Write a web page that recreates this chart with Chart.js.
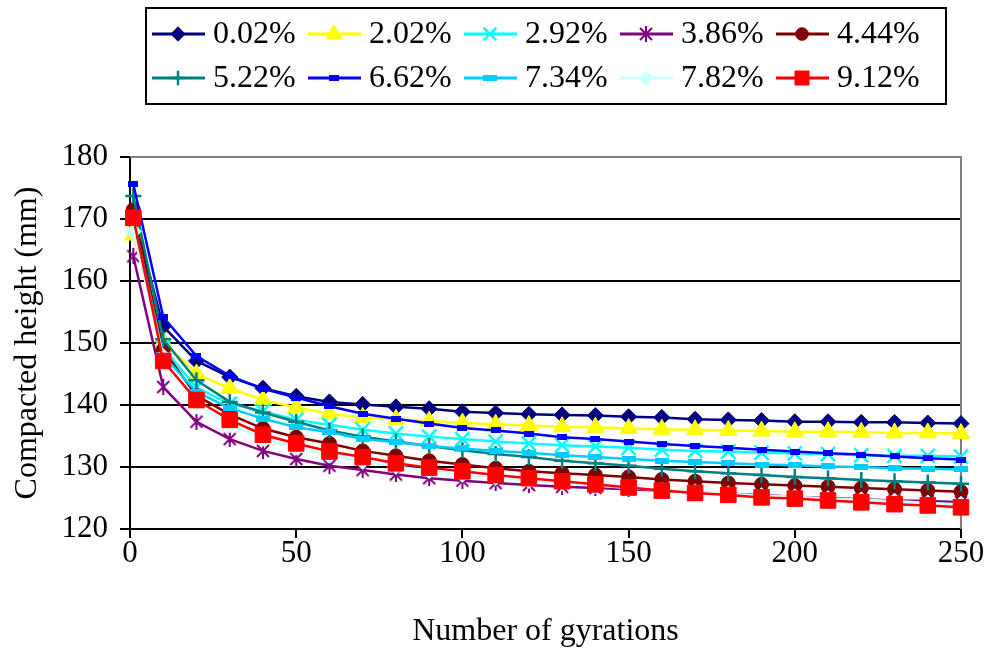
<!DOCTYPE html>
<html>
<head>
<meta charset="utf-8">
<script src="https://cdn.jsdelivr.net/npm/chart.js@4.4.0/dist/chart.umd.min.js"></script>
<style>
  html, body { margin: 0; padding: 0; background: #fff; }
  #wrap { width: 991px; height: 651px; }
</style>
</head>
<body>
<div id="wrap"><canvas id="chart"></canvas></div>
<script>
const gyrations = [1, 10, 20, 30, 40, 50, 60, 70, 80, 90, 100, 110, 120, 130, 140, 150, 160, 170, 180, 190, 200, 210, 220, 230, 240, 250];

const labels = ['0.02%', '2.02%', '2.92%', '3.86%', '4.44%', '5.22%', '6.62%', '7.34%', '7.82%', '9.12%'];

const h002 = [170.8, 152.7, 147.1, 144.5, 142.7, 141.4, 140.5, 140.1, 139.7, 139.4, 138.9, 138.7, 138.5, 138.4, 138.3, 138.1, 138.0, 137.7, 137.6, 137.5, 137.3, 137.3, 137.2, 137.2, 137.1, 137.0];
const h202 = [167.4, 150.2, 145.0, 142.7, 140.8, 139.6, 138.6, 138.0, 137.7, 137.4, 137.1, 136.9, 136.7, 136.5, 136.4, 136.2, 136.1, 136.0, 135.9, 135.8, 135.7, 135.7, 135.6, 135.5, 135.5, 135.4];
const h292 = [169.0, 149.2, 142.8, 140.2, 139.0, 137.6, 136.8, 136.0, 135.4, 134.9, 134.5, 134.1, 133.8, 133.5, 133.3, 133.1, 132.8, 132.6, 132.5, 132.3, 132.2, 132.1, 131.9, 131.8, 131.8, 131.7];
const h386 = [164.0, 142.9, 137.3, 134.5, 132.6, 131.3, 130.2, 129.5, 128.8, 128.2, 127.8, 127.4, 127.1, 126.8, 126.6, 126.4, 126.2, 125.9, 125.7, 125.5, 125.2, 125.0, 124.8, 124.6, 124.5, 124.3];
const h444 = [171.5, 148.9, 141.5, 138.5, 136.2, 134.8, 133.8, 132.6, 131.8, 131.0, 130.4, 129.8, 129.3, 129.0, 128.7, 128.4, 128.0, 127.7, 127.4, 127.2, 127.0, 126.8, 126.6, 126.4, 126.2, 126.0];
const h522 = [173.7, 150.6, 144.0, 140.5, 138.8, 137.3, 135.9, 134.9, 134.1, 133.4, 132.7, 132.1, 131.6, 131.0, 130.6, 130.2, 129.7, 129.3, 129.0, 128.7, 128.4, 128.2, 127.9, 127.7, 127.5, 127.3];
const h662 = [175.6, 154.2, 147.9, 144.7, 142.6, 141.2, 139.8, 138.6, 137.8, 137.0, 136.3, 135.9, 135.4, 134.8, 134.5, 134.1, 133.7, 133.4, 133.1, 132.8, 132.5, 132.2, 132.0, 131.7, 131.4, 131.2];
const h734 = [170.0, 148.0, 142.1, 139.5, 137.8, 136.4, 135.6, 134.5, 134.0, 133.4, 133.0, 132.6, 132.3, 131.9, 131.6, 131.3, 131.0, 130.8, 130.6, 130.4, 130.3, 130.1, 130.0, 129.8, 129.7, 129.6];
const h782 = [168.0, 147.8, 140.2, 136.8, 134.6, 133.2, 131.9, 130.9, 130.1, 129.4, 128.8, 128.3, 127.8, 127.4, 127.0, 126.6, 126.3, 126.0, 125.7, 125.4, 125.2, 124.9, 124.7, 124.5, 124.2, 124.0];
const h912 = [170.2, 147.1, 140.8, 137.6, 135.2, 133.8, 132.5, 131.6, 130.6, 129.9, 129.3, 128.7, 128.2, 127.7, 127.2, 126.7, 126.2, 125.8, 125.5, 125.1, 124.9, 124.6, 124.3, 124.0, 123.8, 123.5];

const xTicks = [0, 50, 100, 150, 200, 250];
const yTicks = [120, 130, 140, 150, 160, 170, 180];

const FONT = 'Liberation Serif, Times New Roman, serif';

// small canvases for the marker shapes Chart.js has no built-in for
function starMarker(color) {
  const c = document.createElement('canvas');
  c.width = 16; c.height = 16;
  const g = c.getContext('2d');
  g.strokeStyle = color;
  g.lineWidth = 2;
  g.beginPath();
  g.moveTo(2, 2); g.lineTo(14, 14);
  g.moveTo(14, 2); g.lineTo(2, 14);
  g.moveTo(8, 0); g.lineTo(8, 16);
  g.stroke();
  return c;
}

function dashMarker(color, w, h) {
  const c = document.createElement('canvas');
  c.width = w; c.height = h;
  const g = c.getContext('2d');
  g.fillStyle = color;
  g.fillRect(0, 0, w, h);
  return c;
}

const series = [
  { data: h002, color: '#000080', style: 'rectRot', radius: 8, bw: 1 },
  { data: h202, color: '#FFFF00', style: 'triangle', radius: 10, bw: 1 },
  { data: h292, color: '#00FFFF', style: 'crossRot', radius: 10, bw: 2.5 },
  { data: h386, color: '#800080', style: starMarker('#800080'), radius: 8, bw: 1 },
  { data: h444, color: '#800000', style: 'circle', radius: 7, bw: 1 },
  { data: h522, color: '#008080', style: 'cross', radius: 8, bw: 2.5 },
  { data: h662, color: '#0000FF', style: dashMarker('#0000FF', 10, 6), radius: 6, bw: 1 },
  { data: h734, color: '#00CCFF', style: dashMarker('#00CCFF', 14, 6), radius: 7, bw: 1 },
  { data: h782, color: '#CCFFFF', style: 'rectRot', radius: 8, bw: 1 },
  { data: h912, color: '#FF0000', style: 'rect', radius: 11, bw: 1 },
];

const datasets = series.map((s, i) => ({
  label: labels[i],
  data: gyrations.map((g, j) => ({ x: g, y: s.data[j] })),
  borderColor: s.color,
  backgroundColor: s.color,
  borderWidth: 2.5,
  pointStyle: s.style,
  pointRadius: s.radius,
  pointHoverRadius: s.radius,
  pointBackgroundColor: s.color,
  pointBorderColor: s.color,
  pointBorderWidth: s.bw,
  tension: 0,
  clip: false,
  order: series.length - i,
}));

// boxed two-row legend, line + marker like the series
const boxLegend = {
  id: 'boxLegend',
  afterDraw(chart) {
    const ctx = chart.ctx;
    ctx.save();
    ctx.strokeStyle = '#000';
    ctx.lineWidth = 2;
    ctx.strokeRect(146, 8, 800, 96);
    ctx.font = '32px ' + FONT;
    ctx.textBaseline = 'middle';
    ctx.textAlign = 'left';
    series.forEach((s, i) => {
      const col = i % 5, row = Math.floor(i / 5);
      const x0 = 152 + col * 156;
      const y = row === 0 ? 34 : 78;
      ctx.strokeStyle = s.color;
      ctx.lineWidth = 3;
      ctx.beginPath();
      ctx.moveTo(x0, y);
      ctx.lineTo(x0 + 53, y);
      ctx.stroke();
      ctx.fillStyle = s.color;
      ctx.strokeStyle = s.color;
      ctx.lineWidth = s.bw;
      Chart.helpers.drawPoint(ctx, { pointStyle: s.style, radius: s.radius * 0.9, rotation: 0, borderWidth: s.bw }, x0 + 26, y);
      ctx.fillStyle = '#000';
      ctx.fillText(labels[i], x0 + 61, y + 1);
    });
    ctx.restore();
  },
  beforeDatasetsDraw(chart) {
    // plot-area frame on the top and right
    const a = chart.chartArea;
    const ctx = chart.ctx;
    ctx.save();
    ctx.strokeStyle = '#808080';
    ctx.lineWidth = 2;
    ctx.beginPath();
    ctx.moveTo(a.left, a.top);
    ctx.lineTo(a.right, a.top);
    ctx.lineTo(a.right, a.bottom);
    ctx.stroke();
    ctx.restore();
  },
};

new Chart(document.getElementById('chart'), {
  type: 'line',
  data: { datasets },
  options: {
    responsive: true,
    maintainAspectRatio: false,
    animation: false,
    layout: { padding: { top: 157, right: 30, left: 0, bottom: 0 } },
    plugins: { legend: { display: false }, tooltip: { enabled: false } },
    scales: {
      x: {
        type: 'linear',
        min: 0,
        max: 250,
        afterFit(scale) { scale.height = 122; },
        afterBuildTicks(scale) { scale.ticks = xTicks.map(v => ({ value: v })); },
        grid: { drawOnChartArea: false, drawTicks: true, tickLength: 9, color: '#000', lineWidth: 2 },
        border: { display: true, color: '#000', width: 2 },
        ticks: { color: '#000', font: { family: FONT, size: 31 }, padding: -3, maxRotation: 0 },
        title: { display: true, text: 'Number of gyrations', color: '#000', font: { family: FONT, size: 32 }, padding: { top: 0, bottom: 0 } },
      },
      y: {
        min: 120,
        max: 180,
        afterFit(scale) { scale.width = 130; },
        afterBuildTicks(scale) { scale.ticks = yTicks.map(v => ({ value: v })); },
        grid: {
          color: (c) => (c.tick && c.tick.value === 180 ? '#808080' : '#000'),
          lineWidth: 2,
          tickLength: 10,
          tickColor: '#000',
        },
        border: { display: true, color: '#000', width: 2 },
        ticks: { color: '#000', font: { family: FONT, size: 31 }, padding: 12 },
        title: { display: true, text: 'Compacted height (mm)', color: '#000', font: { family: FONT, size: 32 }, padding: { top: 8, bottom: 0 } },
      },
    },
  },
  plugins: [boxLegend],
});
</script>
</body>
</html>
